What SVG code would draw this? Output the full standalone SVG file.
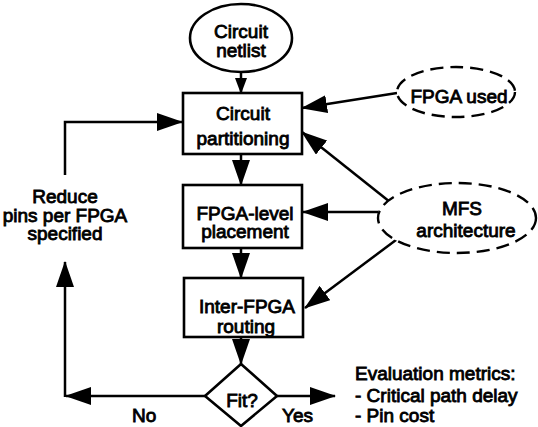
<svg xmlns="http://www.w3.org/2000/svg" width="538" height="427" viewBox="0 0 538 427">
<style>
text{font-family:"Liberation Sans",Arial,sans-serif;font-size:19px;fill:#000;stroke:#000;stroke-width:0.85;text-anchor:middle}
.s{fill:#fff;stroke:#000;stroke-width:2.6}
.d{fill:#fff;stroke:#000;stroke-width:2.4;stroke-dasharray:13 7}
.c{fill:none;stroke:#000;stroke-width:2.5;marker-end:url(#a)}
.l{text-anchor:start}
</style>
<defs>
<marker id="a" markerUnits="userSpaceOnUse" markerWidth="26" markerHeight="18" refX="25" refY="9" orient="auto"><path d="M0,0 L26,9 L0,18 z" fill="#000"/></marker>
<marker id="b" markerUnits="userSpaceOnUse" markerWidth="16" markerHeight="12" refX="15" refY="6" orient="auto"><path d="M0,0 L16,6 L0,12 z" fill="#000"/></marker>
</defs>
<g id="connectors">
<path class="c" style="marker-end:url(#b)" d="M241,72 V93"/>
<path class="c" d="M241,155 V185"/>
<path class="c" d="M241,248 V278"/>
<path class="c" d="M241,337 V364"/>
<path class="c" d="M277,396 H335"/>
<path class="c" d="M205,396 H66"/>
<path class="c" d="M65,397 V262"/>
<path class="c" d="M65,175 V122 H182"/>
<path class="c" d="M397,93 L302,108"/>
<path class="c" d="M390,202 L302,132"/>
<path class="c" d="M378,212 H303"/>
<path class="c" d="M400,237 L305,308"/>
</g>
<g id="netlist"><ellipse class="s" cx="241" cy="38" rx="51" ry="34"/><text x="241" y="38">Circuit</text><text x="241" y="57">netlist</text></g>
<g id="partition"><rect class="s" x="183" y="93" width="119" height="61"/><text x="243" y="120">Circuit</text><text x="243" y="145">partitioning</text></g>
<g id="placement"><rect class="s" x="183" y="185" width="119" height="63"/><text x="245" y="220">FPGA-level</text><text x="245" y="238">placement</text></g>
<g id="routing"><rect class="s" x="184" y="278" width="119" height="59"/><text x="247" y="313">Inter-FPGA</text><text x="246" y="333">routing</text></g>
<g id="fit"><polygon class="s" points="241,364 277,396 241,426 205,396"/><text x="242" y="407">Fit?</text></g>
<g id="fpgaused"><ellipse class="d" cx="456" cy="92" rx="59" ry="25"/><text x="459" y="103">FPGA used</text></g>
<g id="mfs"><ellipse class="d" cx="457" cy="218" rx="79" ry="35"/><text x="462" y="215">MFS</text><text x="466" y="237">architecture</text></g>
<g id="reduce"><text x="65" y="203">Reduce</text><text x="65" y="222">pins per FPGA</text><text x="65" y="240">specified</text></g>
<g id="labels"><text class="l" x="282" y="422">Yes</text><text class="l" x="132" y="422">No</text></g>
<g id="metrics"><text class="l" x="355" y="380">Evaluation metrics:</text><text class="l" x="355" y="402">- Critical path delay</text><text class="l" x="355" y="422">- Pin cost</text></g>
</svg>
